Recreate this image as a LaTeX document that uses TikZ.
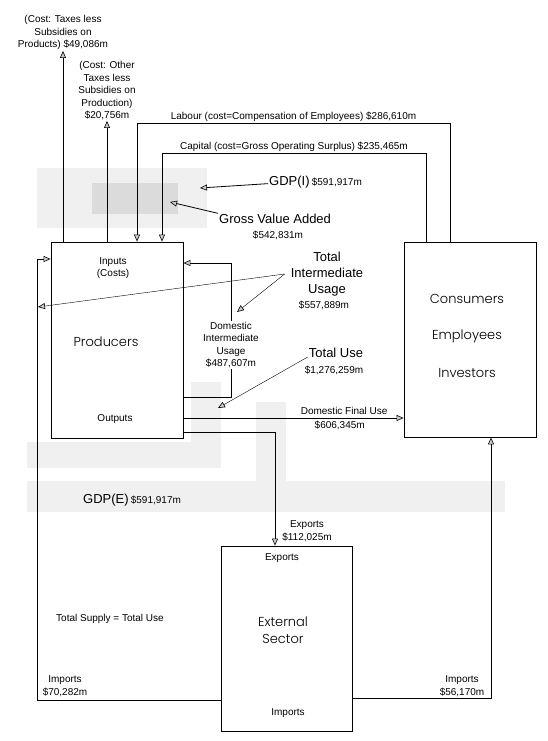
\documentclass[tikz,border=0pt]{standalone}
\usepackage{fontspec}
\setmainfont{Liberation Sans}
\newfontfamily\geofont{Poppins Light}
\usepackage{tikz}
\usetikzlibrary{arrows.meta}
\usetikzlibrary{positioning}
\tikzset{>=latex}

\begin{document}
\begin{tikzpicture}[
        x=1pt, y=-1pt,
        flow/.style={draw, line width=0.8pt, -{Triangle[length=7pt, width=6pt, fill=gray!40, line width=0.6pt]}},
        lead/.style={draw, line width=0.4pt, -{Triangle[length=7pt, width=6pt, fill=gray!40, line width=0.6pt]}},
        sector/.style={draw, line width=0.8pt, inner sep=0pt, minimum width=132pt},
        small/.style={font=\fontsize{10}{12.5}\selectfont, align=center, inner sep=1pt},
        medium/.style={font=\fontsize{13}{16}\selectfont, align=center, inner sep=1pt},
        big/.style={font=\geofont\fontsize{13}{17}\selectfont, align=center, inner sep=1pt},
        band/.style={fill=gray!12},
        core/.style={fill=gray!28}
    ]

    \useasboundingbox (0,0) rectangle (548,741);

    %=== Grey bands behind ===%
    \fill[band] (37,168) rectangle (207,228);
    \fill[core] (92,183) rectangle (178,214);
    \fill[band] (191,382) rectangle (221,468);
    \fill[band] (27,442) rectangle (221,468);
    \fill[band] (256,402) rectangle (286,481);
    \fill[band] (27,481) rectangle (505,512);

    %=== Sectors ===%
    \node[sector, minimum height=196pt] (prod) at (117,340) {};
    \node[sector, minimum height=195pt] (cons) at (470,339.5) {};
    \node[sector, minimum width=131pt, minimum height=185pt] (ext) at (286.5,638.5) {};

    \node[small] (inputs) at (113,268) {Inputs\\(Costs)};
    \node[big] (prodname) at (106,342) {Producers};
    \node[small] (outputs) at (115,419) {Outputs};

    \node[big] (consname) at (467,299) {Consumers};
    \node[big] (emplname) at (467,336) {Employees};
    \node[big] (invname) at (467,373) {Investors};

    \node[small] (extexp) at (282,558) {Exports};
    \node[big] (extname) at (283,630) {External\\Sector};
    \node[small] (extimp) at (288,713) {Imports};

    %=== Taxes ===%
    \node[small, anchor=south] (taxprod) at (63,51) {(Cost: Taxes less\\Subsidies on\\Products) \$49,086m};
    \node[small, anchor=south] (taxother) at (107,121) {(Cost: Other\\Taxes less\\Subsidies on\\Production)\\\$20,756m};
    \draw[flow] (prod.north -| taxprod.south) -- (taxprod.south);
    \draw[flow] (prod.north -| taxother.south) -- (taxother.south);

    %=== Labour and capital ===%
    \coordinate (labR) at (450,123);
    \coordinate (labL) at (137,123);
    \coordinate (capR) at (426,153);
    \coordinate (capL) at (162,153);
    \draw[flow] (cons.north -| labR) -- (labR)
        -- node[small, above] {Labour (cost=Compensation of Employees) \$286,610m} (labL)
        -- (prod.north -| labL);
    \draw[flow] (cons.north -| capR) -- (capR)
        -- node[small, above] {Capital (cost=Gross Operating Surplus) \$235,465m} (capL)
        -- (prod.north -| capL);

    %=== Income side ===%
    \node[medium, anchor=base west] (gdpi) at (268,185) {GDP(I)\,{\fontsize{10}{12}\selectfont\$591,917m}};
    \node[medium, anchor=base west] (gva) at (218,223) {Gross Value Added};
    \node[small] (gvaval) at (278,235) {\$542,831m};
    \coordinate (gdpitip) at (200,188);
    \coordinate (gvatip) at (170,202);
    \draw[flow] ([yshift=-2pt]gdpi.west) -- (gdpitip);
    \draw[flow] ([yshift=5pt]gva.west) -- (gvatip);

    %=== Intermediate usage ===%
    \node[medium] (tiu) at (327,274) {Total\\Intermediate\\Usage};
    \node[small] (tiuval) at (324,305) {\$557,889m};
    \coordinate (tiutipA) at (38,307);
    \coordinate (tiutipB) at (237,312);
    \draw[lead] ([xshift=-5pt]tiu.west) -- (tiutipA);
    \draw[lead] ([xshift=-5pt]tiu.west) -- (tiutipB);

    \coordinate (diuB) at (231,397);
    \coordinate (diuT) at (231,263);
    \draw[flow] (prod.east |- diuB) -- (diuB) -- (diuT) -- (prod.east |- diuT);
    \node[small, fill=white] (diu) at (231,345) {Domestic\\Intermediate\\Usage\\\$487,607m};

    %=== Use side ===%
    \node[medium] (tu) at (336,353) {Total Use};
    \node[small] (tuval) at (334,370) {\$1,276,259m};
    \coordinate (tutip) at (218,408);
    \draw[lead] ([yshift=-4pt]tu.west) -- (tutip);

    \coordinate (dfu) at (300,418);
    \draw[flow] (prod.east |- dfu) -- node[small, pos=0.73, above=2.5pt] {Domestic Final Use}
        node[small, pos=0.71, below=1.5pt] {\$606,345m} (cons.west |- dfu);

    \coordinate (expC) at (275,432);
    \draw[flow] (prod.east |- expC) -- (expC) -- (ext.north -| expC);
    \node[small] (expval) at (307,531) {Exports\\\$112,025m};

    %=== Imports ===%
    \coordinate (impLB) at (37,700);
    \coordinate (impLT) at (37,259);
    \draw[flow] (ext.west |- impLB) -- (impLB) -- (impLT) -- (prod.west |- impLT);
    \node[small] (impLval) at (65,686) {Imports\\\$70,282m};

    \coordinate (impRB) at (491,698);
    \draw[flow] (ext.east |- impRB) -- (impRB) -- (cons.south -| impRB);
    \node[small] (impRval) at (462,686) {Imports\\\$56,170m};

    %=== Totals ===%
    \node[medium, anchor=base west] (gdpe) at (82,503) {GDP(E)\,{\fontsize{10}{12}\selectfont\$591,917m}};
    \node[small] (supply) at (110,619) {Total Supply = Total Use};

\end{tikzpicture}
\end{document}
